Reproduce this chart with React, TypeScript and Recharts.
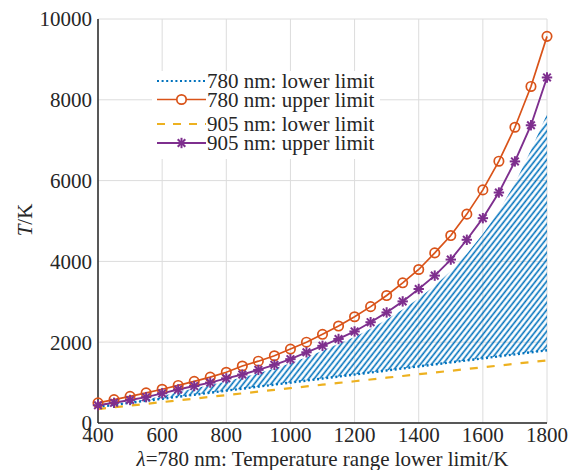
import React from 'react';
import { ComposedChart, Line, Area, XAxis, YAxis, CartesianGrid, Legend } from 'recharts';

const temps = [400, 450, 500, 550, 600, 650, 700, 750, 800, 850, 900, 950, 1000, 1050, 1100, 1150, 1200, 1250, 1300, 1350, 1400, 1450, 1500, 1550, 1600, 1650, 1700, 1750, 1800];
const lower780 = [400, 450, 500, 550, 600, 650, 700, 750, 800, 850, 900, 950, 1000, 1050, 1100, 1150, 1200, 1250, 1300, 1350, 1400, 1450, 1500, 1550, 1600, 1650, 1700, 1750, 1800];
const upper780 = [500, 580, 660, 745, 835, 930, 1030, 1135, 1255, 1410, 1530, 1665, 1830, 2000, 2195, 2400, 2630, 2880, 3155, 3470, 3800, 4210, 4640, 5170, 5770, 6480, 7320, 8330, 9570];
const lower905 = [345, 388, 431, 474, 517, 560, 603, 647, 690, 733, 776, 819, 862, 905, 948, 991, 1034, 1077, 1121, 1164, 1207, 1250, 1293, 1336, 1379, 1422, 1465, 1508, 1548];
const upper905 = [440, 500, 570, 640, 735, 830, 915, 1000, 1105, 1200, 1315, 1440, 1580, 1750, 1910, 2080, 2266, 2495, 2737, 3010, 3317, 3648, 4045, 4535, 5070, 5705, 6475, 7370, 8553];
const hatchTop = [410, 460, 520, 590, 665, 765, 855, 940, 1030, 1130, 1230, 1350, 1480, 1630, 1790, 1960, 2130, 2330, 2560, 2810, 3090, 3400, 3760, 4190, 4680, 5250, 5930, 6760, 7650];
const seriesNames = ['780 nm: lower limit', '780 nm: upper limit', '905 nm: lower limit', '905 nm: upper limit'];
const xTicks = [400, 600, 800, 1000, 1200, 1400, 1600, 1800];
const yTicks = [0, 2000, 4000, 6000, 8000, 10000];
const xLabelItalic = 'λ';
const xLabelRest = '=780 nm: Temperature range lower limit/K';
const yLabelItalic = 'T';
const yLabelRest = '/K';

const data = temps.map((t, i) => ({
  t,
  lo780: lower780[i],
  up780: upper780[i],
  lo905: lower905[i],
  up905: upper905[i],
  hatch: [lower780[i], hatchTop[i]],
}));

const BLUE = '#0072BD';
const RED = '#D95319';
const ORANGE = '#EDB120';
const PURPLE = '#7E2F8E';
const AXIS = '#262626';
const FONT = '"Liberation Serif", "Times New Roman", serif';
const FS = 21;

const Circle = (props: any) => {
  const { cx, cy, index } = props;
  if (cx == null || cy == null) return null;
  return <circle key={`c${index}`} cx={cx} cy={cy} r={4.7} fill="none" stroke={RED} strokeWidth={1.7} />;
};

const Star = (props: any) => {
  const { cx, cy, index } = props;
  if (cx == null || cy == null) return null;
  const r = 5.2;
  const d = 3.8;
  return (
    <g key={`s${index}`} stroke={PURPLE} strokeWidth={2}>
      <line x1={cx - r} y1={cy} x2={cx + r} y2={cy} />
      <line x1={cx} y1={cy - r} x2={cx} y2={cy + r} />
      <line x1={cx - d} y1={cy - d} x2={cx + d} y2={cy + d} />
      <line x1={cx - d} y1={cy + d} x2={cx + d} y2={cy - d} />
    </g>
  );
};

const renderLegend = () => {
  const rows = [10, 28.5, 53, 72];
  return (
    <svg width={228} height={88} style={{ display: 'block', overflow: 'visible' }}>
      <rect x={0} y={0} width={228} height={88} fill="#fff" />
      <line x1={5} x2={54} y1={rows[0]} y2={rows[0]} stroke={BLUE} strokeWidth={2.2} strokeDasharray="2 2.6" />
      <line x1={5} x2={54} y1={rows[1]} y2={rows[1]} stroke={RED} strokeWidth={1.7} />
      <circle cx={29.5} cy={rows[1]} r={4.7} fill="#fff" stroke={RED} strokeWidth={1.7} />
      <line x1={5} x2={54} y1={rows[2]} y2={rows[2]} stroke={ORANGE} strokeWidth={2} strokeDasharray="8 8" />
      <line x1={5} x2={54} y1={rows[3]} y2={rows[3]} stroke={PURPLE} strokeWidth={1.8} />
      {Star({ cx: 29.5, cy: rows[3], index: 99 })}
      {seriesNames.map((n, i) => (
        <text key={n} x={55} y={rows[i] + 7} fontFamily={FONT} fontSize={FS} fill={AXIS}>
          {n}
        </text>
      ))}
    </svg>
  );
};

const XLabel = (props: any) => {
  const vb = props.viewBox || {};
  const cx = (vb.x ?? 98) + (vb.width ?? 448) / 2;
  return (
    <text x={cx} y={466} textAnchor="middle" fontFamily={FONT} fontSize={FS} fill={AXIS}>
      <tspan fontStyle="italic">{xLabelItalic}</tspan>
      <tspan>{xLabelRest}</tspan>
    </text>
  );
};

const YLabel = () => (
  <text x={31.5} y={220} textAnchor="middle" transform="rotate(-90 31.5 220)" fontFamily={FONT} fontSize={FS} fill={AXIS}>
    <tspan fontStyle="italic">{yLabelItalic}</tspan>
    <tspan>{yLabelRest}</tspan>
  </text>
);

const tickStyle = { fontFamily: FONT, fontSize: FS, fill: AXIS };

export default function App() {
  return (
    <div style={{ position: 'absolute', left: 0, top: 0, width: 577, height: 470, background: '#fff' }}>
      <ComposedChart width={577} height={470} data={data} margin={{ top: 19, right: 30, bottom: 0, left: 0 }}>
        <defs>
          <pattern id="hatch" patternUnits="userSpaceOnUse" width={4.4} height={10} patternTransform="rotate(38)">
            <line x1={1.2} y1={0} x2={1.2} y2={10} stroke={BLUE} strokeWidth={1.6} />
          </pattern>
        </defs>
        <CartesianGrid stroke="#dcdcdc" strokeWidth={1} xAxisId="x" yAxisId="y" />
        <XAxis
          xAxisId="x"
          dataKey="t"
          type="number"
          domain={[400, 1800]}
          ticks={xTicks}
          tickLine={false}
          tickSize={0}
          tickMargin={4}
          height={47}
          axisLine={{ stroke: AXIS, strokeWidth: 1.5 }}
          tick={tickStyle}
          interval={0}
          label={<XLabel />}
        />
        <XAxis
          xAxisId="xb"
          dataKey="t"
          type="number"
          domain={[400, 1800]}
          ticks={xTicks}
          orientation="bottom"
          mirror
          tick={false}
          tickSize={5}
          height={0}
          axisLine={false}
          tickLine={{ stroke: AXIS, strokeWidth: 1.2 }}
        />
        <XAxis
          xAxisId="xt"
          dataKey="t"
          type="number"
          domain={[400, 1800]}
          ticks={xTicks}
          orientation="top"
          mirror
          tick={false}
          tickSize={5}
          height={0}
          axisLine={{ stroke: AXIS, strokeWidth: 1.5 }}
          tickLine={{ stroke: AXIS, strokeWidth: 1.2 }}
        />
        <YAxis
          yAxisId="y"
          type="number"
          domain={[0, 10000]}
          ticks={yTicks}
          tickLine={false}
          tickSize={0}
          tickMargin={6}
          width={98}
          axisLine={{ stroke: AXIS, strokeWidth: 1.5 }}
          tick={tickStyle}
          interval={0}
          label={<YLabel />}
        />
        <YAxis
          yAxisId="yl"
          type="number"
          domain={[0, 10000]}
          ticks={yTicks}
          orientation="left"
          mirror
          tick={false}
          tickSize={5}
          width={0}
          axisLine={false}
          tickLine={{ stroke: AXIS, strokeWidth: 1.2 }}
        />
        <YAxis
          yAxisId="yr"
          type="number"
          domain={[0, 10000]}
          ticks={yTicks}
          orientation="right"
          mirror
          tick={false}
          tickSize={5}
          width={0}
          axisLine={{ stroke: AXIS, strokeWidth: 1.5 }}
          tickLine={{ stroke: AXIS, strokeWidth: 1.2 }}
        />
        <Area
          xAxisId="x"
          yAxisId="y"
          dataKey="hatch"
          type="linear"
          stroke="none"
          fill="url(#hatch)"
          fillOpacity={1}
          isAnimationActive={false}
          activeDot={false}
        />
        <Line xAxisId="x" yAxisId="y" dataKey="lo780" type="linear" stroke={BLUE} strokeWidth={2.4} strokeDasharray="2 2.6" dot={false} activeDot={false} isAnimationActive={false} />
        <Line xAxisId="x" yAxisId="y" dataKey="up780" type="linear" stroke={RED} strokeWidth={1.7} dot={Circle} activeDot={false} isAnimationActive={false} />
        <Line xAxisId="x" yAxisId="y" dataKey="lo905" type="linear" stroke={ORANGE} strokeWidth={2.2} strokeDasharray="8 9" dot={false} activeDot={false} isAnimationActive={false} />
        <Line xAxisId="x" yAxisId="y" dataKey="up905" type="linear" stroke={PURPLE} strokeWidth={1.9} dot={Star} activeDot={false} isAnimationActive={false} />
        <Legend
          layout="vertical"
          align="center"
          verticalAlign="middle"
          content={renderLegend}
          wrapperStyle={{ position: 'absolute', left: 152, top: 71, width: 228, height: 88, margin: 0, padding: 0 }}
        />
      </ComposedChart>
    </div>
  );
}
